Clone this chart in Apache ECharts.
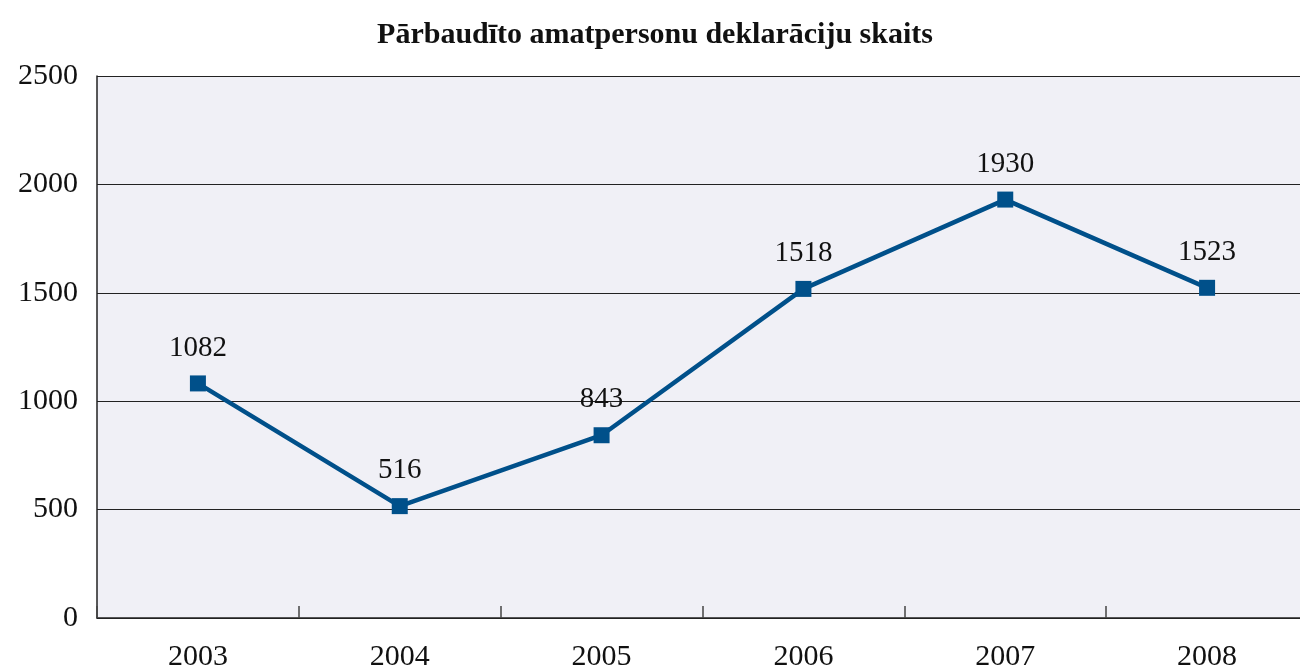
<!DOCTYPE html>
<html>
<head>
<meta charset="utf-8">
<script src="https://cdn.jsdelivr.net/npm/echarts@6/dist/echarts.min.js"></script>
<style>
  html, body { margin: 0; padding: 0; background: #fff; overflow: hidden; }
  #chart { width: 1308px; height: 668px; }
</style>
</head>
<body>
<div id="chart"></div>
<script>
const years = ['2003', '2004', '2005', '2006', '2007', '2008']
const checked = [1082, 516, 843, 1518, 1930, 1523]
const titleText = 'Pārbaudīto amatpersonu deklarāciju skaits'

const font = '"Liberation Serif", "DejaVu Serif", serif'
const chart = echarts.init(document.getElementById('chart'))
chart.setOption({
  animation: false,
  backgroundColor: '#fff',
  textStyle: { fontFamily: font },
  title: {
    text: titleText,
    left: 650,
    textAlign: 'center',
    top: 15,
    textStyle: { fontFamily: font, fontSize: 30, fontWeight: 'bold', color: '#111' }
  },
  grid: {
    left: 97,
    right: 0,
    top: 76,
    bottom: 50,
    outerBoundsMode: 'none',
    containLabel: false,
    show: true,
    backgroundColor: '#f0f0f6',
    borderWidth: 0
  },
  xAxis: {
    type: 'category',
    data: years,
    boundaryGap: true,
    axisLine: { lineStyle: { color: '#222', width: 1.5 } },
    axisTick: { show: true, inside: true, length: 12, lineStyle: { color: '#444', width: 1.5 } },
    axisLabel: { color: '#111', fontSize: 30, fontFamily: font, margin: 24 },
    splitLine: { show: false }
  },
  yAxis: {
    type: 'value',
    min: 0,
    max: 2500,
    interval: 500,
    axisLine: { show: true, lineStyle: { color: '#222', width: 1.5 } },
    axisTick: { show: false },
    axisLabel: { color: '#111', fontSize: 30, fontFamily: font, margin: 19, formatter: v => String(v) },
    splitLine: { lineStyle: { color: '#222', width: 1.2 } }
  },
  series: [
    {
      type: 'line',
      data: checked,
      symbol: 'rect',
      symbolSize: 16,
      lineStyle: { color: '#00508a', width: 4.5 },
      itemStyle: { color: '#00508a' },
      label: {
        show: true,
        position: 'top',
        distance: 13,
        color: '#111',
        fontSize: 29,
        fontFamily: font
      }
    }
  ]
})
</script>
</body>
</html>
